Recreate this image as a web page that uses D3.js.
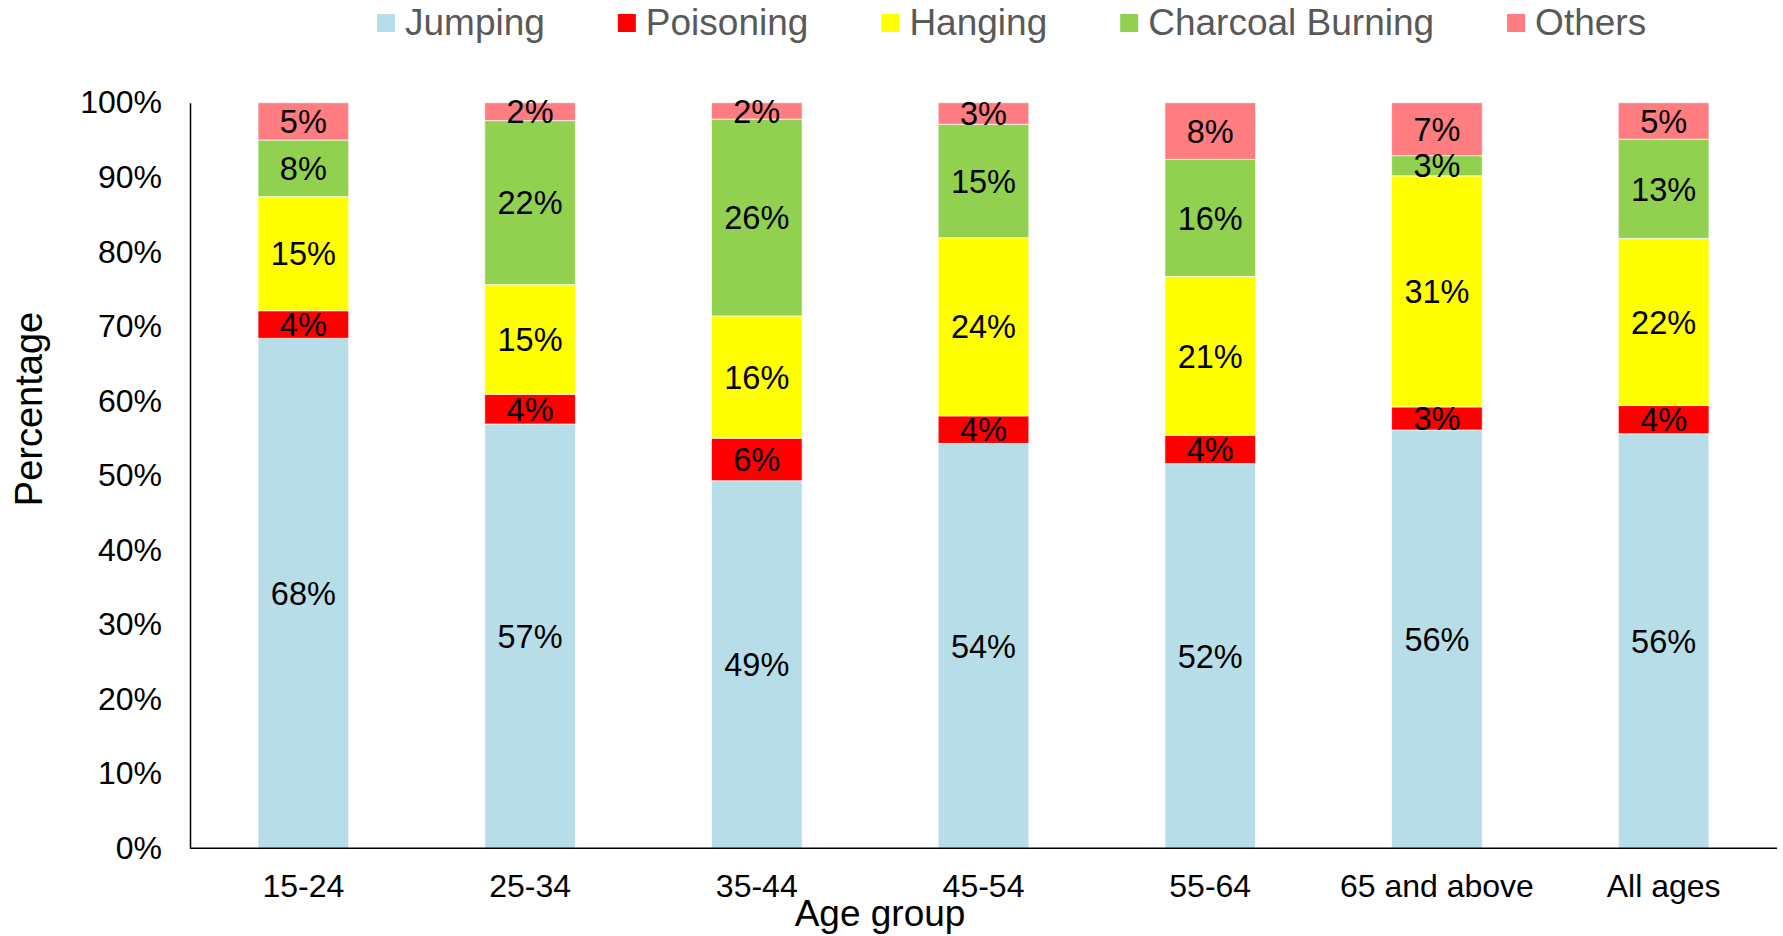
<!DOCTYPE html>
<html>
<head>
<meta charset="utf-8">
<script src="https://cdn.jsdelivr.net/npm/d3@7"></script>
<style>
  html, body { margin: 0; padding: 0; background: #fff; }
  svg { display: block; font-family: "Liberation Sans", Arial, sans-serif; }
</style>
</head>
<body>
<svg id="chart" width="1783" height="936"></svg>
<script>
// ---- data ----
const categories = ["15-24", "25-34", "35-44", "45-54", "55-64", "65 and above", "All ages"];
const seriesNames = ["Jumping", "Poisoning", "Hanging", "Charcoal Burning", "Others"];
const jumping  = [68.4, 56.9, 49.3, 54.3, 51.6, 56.1, 55.6];
const poisoning = [3.7, 4.0, 5.7, 3.7, 3.8, 3.1, 3.8];
const hanging  = [15.3, 14.7, 16.4, 23.9, 21.3, 31.0, 22.4];
const charcoal = [7.6, 22.0, 26.4, 15.2, 15.7, 2.7, 13.3];
const others   = [5.0, 2.4, 2.2, 2.9, 7.6, 7.1, 4.9];
const yTicks = [0, 10, 20, 30, 40, 50, 60, 70, 80, 90, 100];
const colors = ["#B7DEE8", "#FF0000", "#FFFF00", "#92D050", "#FF7C80"];

const seriesValues = [jumping, poisoning, hanging, charcoal, others];
const rows = categories.map((c, i) => {
  const r = { cat: c };
  seriesNames.forEach((s, k) => { r[s] = seriesValues[k][i]; });
  return r;
});

// ---- layout ----
const FONT = "'Liberation Sans', Arial, sans-serif";
const svg = d3.select("#chart");
const mLeft = 190, mRight = 1777, mTop = 102.7, mBottom = 848.3;

const x = d3.scaleBand().domain(categories).range([mLeft, mRight])
  .paddingInner(0.6).paddingOuter(0.3);
const y = d3.scaleLinear().domain([0, 100]).range([mBottom, mTop]);

const stacked = d3.stack().keys(seriesNames)(rows);

// bars
const layers = svg.append("g").selectAll("g").data(stacked).join("g")
  .attr("fill", (d, i) => colors[i]);
layers.selectAll("rect").data(d => d).join("rect")
  .attr("x", d => x(d.data.cat))
  .attr("width", x.bandwidth())
  .attr("y", d => y(d[1]))
  .attr("height", d => y(d[0]) - y(d[1]))
  .attr("stroke", "rgba(255,255,255,0.7)")
  .attr("stroke-width", 1);

// labels
const lab = svg.append("g");
stacked.forEach((layer) => {
  layer.forEach(d => {
    lab.append("text")
      .attr("x", x(d.data.cat) + x.bandwidth() / 2)
      .attr("y", (y(d[0]) + y(d[1])) / 2)
      .attr("dy", "0.36em")
      .attr("text-anchor", "middle")
      .attr("font-size", 32.5)
      .attr("fill", "#000")
      .text(Math.round(d[1] - d[0]) + "%");
  });
});

// y axis
const yAxis = d3.axisLeft(y).tickValues(yTicks).tickFormat(d => d + "%").tickSize(0).tickPadding(28);
const gy = svg.append("g").attr("transform", `translate(${mLeft},0)`).call(yAxis);
gy.select(".domain").attr("stroke", "#000").attr("stroke-width", 1.5);
gy.selectAll("text").attr("font-size", 32).attr("fill", "#000").attr("font-family", FONT);

// x axis
const xAxis = d3.axisBottom(x).tickSize(0).tickPadding(26);
const gx = svg.append("g").attr("transform", `translate(0,${mBottom})`).call(xAxis);
gx.select(".domain").attr("stroke", "#000").attr("stroke-width", 1.5)
  .attr("d", `M${mLeft},0H${mRight}`);
gx.selectAll("text").attr("font-size", 32).attr("fill", "#000").attr("font-family", FONT);

// axis titles
svg.append("text")
  .attr("transform", `translate(42,409) rotate(-90)`)
  .attr("text-anchor", "middle")
  .attr("font-size", 38)
  .attr("fill", "#000")
  .text("Percentage");

svg.append("text")
  .attr("x", 880).attr("y", 926)
  .attr("text-anchor", "middle")
  .attr("font-size", 37)
  .attr("fill", "#000")
  .text("Age group");

// legend
const legend = svg.append("g");
let lx = 377;
seriesNames.forEach((s, i) => {
  legend.append("rect").attr("x", lx).attr("y", 14).attr("width", 18).attr("height", 18)
    .attr("fill", colors[i]);
  const t = legend.append("text").attr("x", lx + 28).attr("y", 35)
    .attr("font-size", 37).attr("fill", "#595959").text(s);
  lx += 28 + t.node().getComputedTextLength() + 73;
});
</script>
</body>
</html>
